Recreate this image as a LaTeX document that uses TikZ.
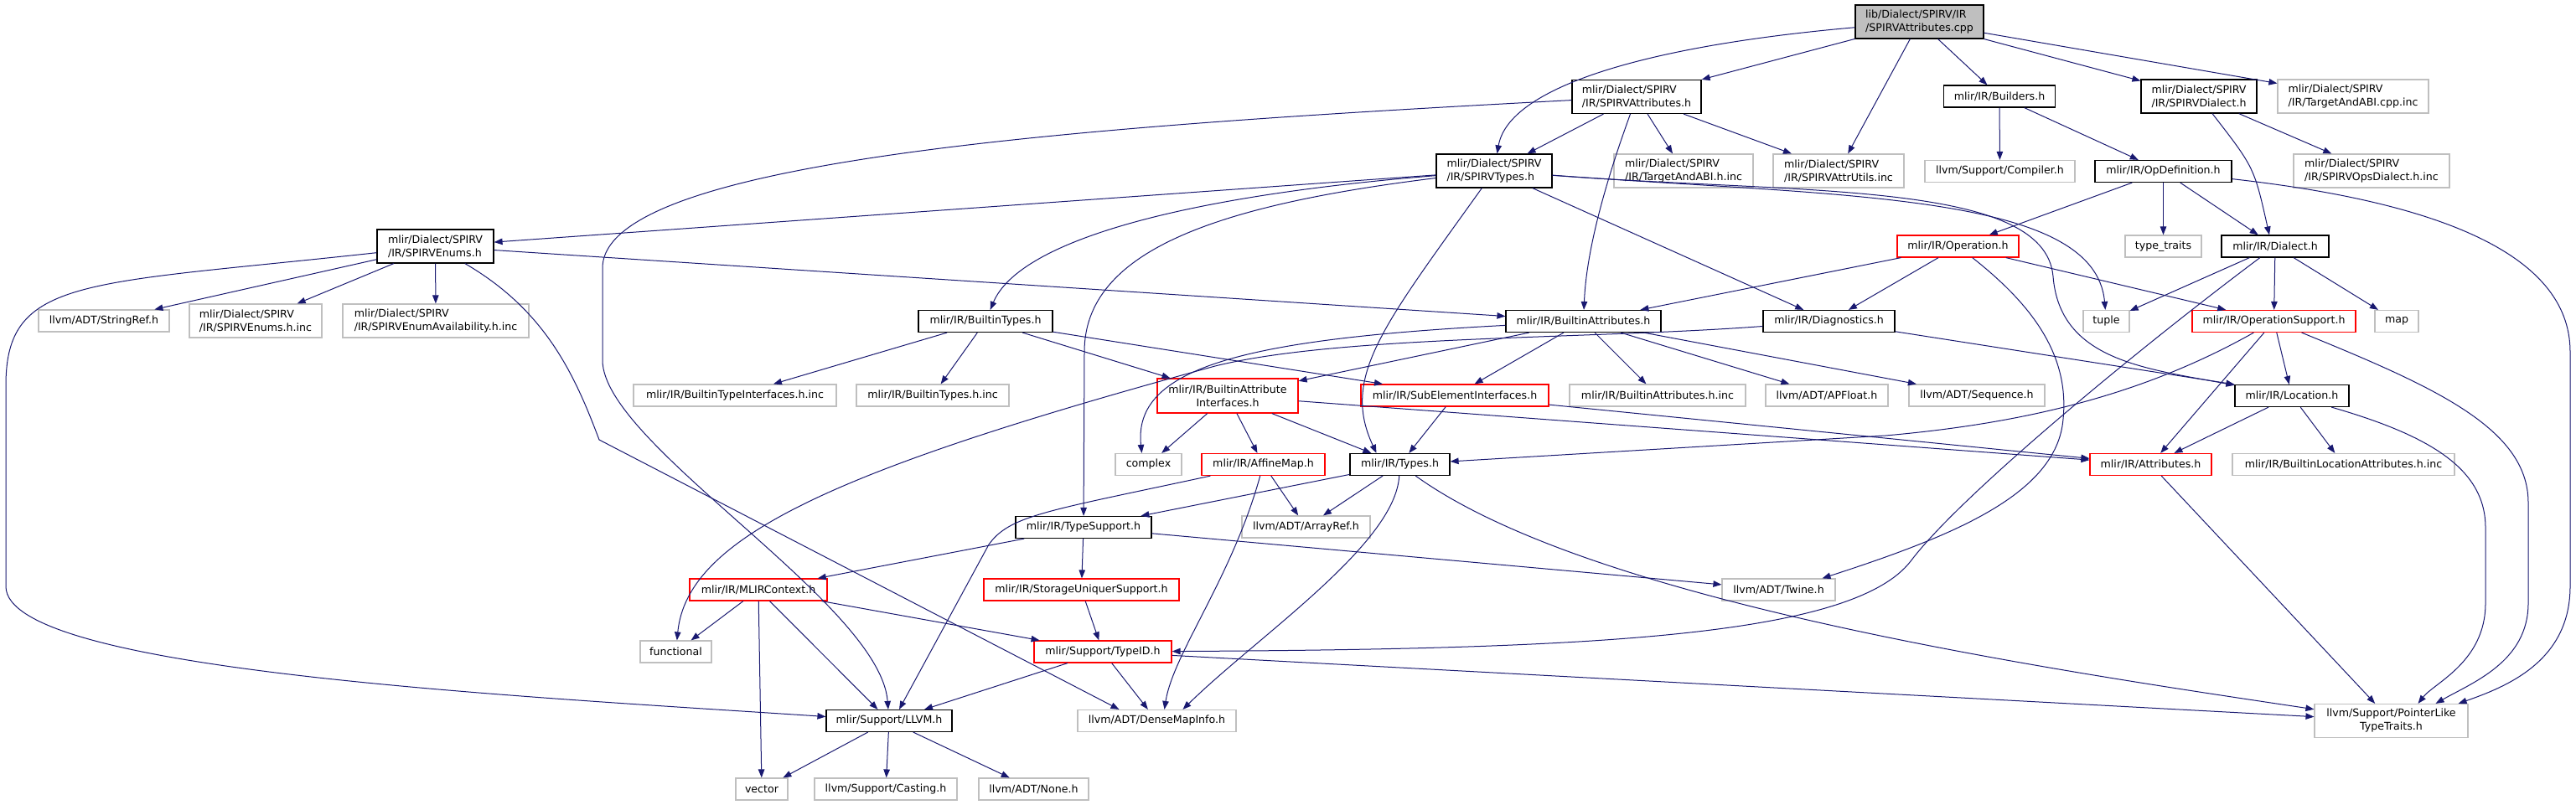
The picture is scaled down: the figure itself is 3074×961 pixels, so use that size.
\documentclass[tikz,border=0pt]{standalone}
\usepackage{fontspec}
\setmainfont{DejaVu Sans}
\usepackage{tikz}
\usetikzlibrary{arrows.meta,calc}
\definecolor{edge}{HTML}{191970}
\definecolor{rim}{HTML}{BFBFBF}

\tikzset{
  box/.style={rectangle,inner sep=0pt,minimum height=26pt,align=center,
    fill=white,line width=1.2pt,text=black},
  doc/.style={box,draw=black},
  part/.style={box,draw=red},
  ext/.style={box,draw=rim},
  tall/.style={minimum height=40pt},
  inc/.style={draw=edge,line width=1pt,-{Triangle[length=10pt,width=7.5pt]}}
}

\begin{document}
\begin{tikzpicture}[x=1pt,y=-1pt,font=\fontsize{12.6pt}{16pt}\selectfont]
  \useasboundingbox (0,0) rectangle (3074,961);

  % top rows
  \node[doc,tall,fill=rim,align=left,minimum width=153pt] (cpp) at (2290.5,26)
    {lib/Dialect/SPIRV/IR\\/SPIRVAttributes.cpp};
  \node[doc,tall,align=left,minimum width=154pt] (attrh) at (1953,115.5)
    {mlir/Dialect/SPIRV\\/IR/SPIRVAttributes.h};
  \node[doc,minimum width=133pt] (builders) at (2386,115) {mlir/IR/Builders.h};
  \node[doc,tall,align=left,minimum width=138pt] (dialectspirv) at (2624,115)
    {mlir/Dialect/SPIRV\\/IR/SPIRVDialect.h};
  \node[ext,tall,align=left,minimum width=180pt] (abicpp) at (2808,115)
    {mlir/Dialect/SPIRV\\/IR/TargetAndABI.cpp.inc};

  \node[doc,tall,align=left,minimum width=138pt] (types) at (1783,204)
    {mlir/Dialect/SPIRV\\/IR/SPIRVTypes.h};
  \node[ext,tall,align=left,minimum width=166pt] (abiinc) at (2009,204)
    {mlir/Dialect/SPIRV\\/IR/TargetAndABI.h.inc};
  \node[ext,tall,align=left,minimum width=156pt] (attrutils) at (2194,204)
    {mlir/Dialect/SPIRV\\/IR/SPIRVAttrUtils.inc};
  \node[ext,minimum width=179pt] (compiler) at (2386.5,204.5) {llvm/Support/Compiler.h};
  \node[doc,minimum width=163pt] (opdef) at (2581.5,204.5) {mlir/IR/OpDefinition.h};
  \node[ext,tall,align=left,minimum width=186pt] (opsdialect) at (2830,204)
    {mlir/Dialect/SPIRV\\/IR/SPIRVOpsDialect.h.inc};

  \node[doc,tall,align=left,minimum width=139pt] (enums) at (519.5,294)
    {mlir/Dialect/SPIRV\\/IR/SPIRVEnums.h};
  \node[part,minimum width=145pt] (operation) at (2336.5,294) {mlir/IR/Operation.h};
  \node[ext,minimum width=91pt] (typetraits) at (2581.5,294) {type\_traits};
  \node[doc,minimum width=128pt] (dialect) at (2715,294) {mlir/IR/Dialect.h};

  % middle rows
  \node[ext,minimum width=156pt] (stringref) at (124,383) {llvm/ADT/StringRef.h};
  \node[ext,tall,align=left,minimum width=158pt] (enumsinc) at (305,383)
    {mlir/Dialect/SPIRV\\/IR/SPIRVEnums.h.inc};
  \node[ext,tall,align=left,minimum width=222pt] (enumavail) at (520,383)
    {mlir/Dialect/SPIRV\\/IR/SPIRVEnumAvailability.h.inc};
  \node[doc,minimum width=160pt] (builtintypes) at (1176,383.5) {mlir/IR/BuiltinTypes.h};
  \node[doc,minimum width=185pt] (builtinattrs) at (1889.5,383.5) {mlir/IR/BuiltinAttributes.h};
  \node[doc,minimum width=157pt] (diagnostics) at (2182.5,383.5) {mlir/IR/Diagnostics.h};
  \node[ext,minimum width=55pt] (tuple) at (2513.5,383.5) {tuple};
  \node[part,minimum width=195pt] (opsupport) at (2713.5,383.5) {mlir/IR/OperationSupport.h};
  \node[ext,minimum width=52pt] (map) at (2860,383.5) {map};

  \node[ext,minimum width=242pt] (typeifinc) at (877,472) {mlir/IR/BuiltinTypeInterfaces.h.inc};
  \node[ext,minimum width=182pt] (typesinc) at (1113,472) {mlir/IR/BuiltinTypes.h.inc};
  \node[part,minimum height=41pt,minimum width=168pt] (attrif) at (1465,472.5)
    {mlir/IR/BuiltinAttribute\\Interfaces.h};
  \node[part,minimum width=224pt] (subelem) at (1736,472) {mlir/IR/SubElementInterfaces.h};
  \node[ext,minimum width=210pt] (attrsinc) at (1978,472) {mlir/IR/BuiltinAttributes.h.inc};
  \node[ext,minimum width=146pt] (apfloat) at (2180,472) {llvm/ADT/APFloat.h};
  \node[ext,minimum width=162pt] (sequence) at (2359,472) {llvm/ADT/Sequence.h};
  \node[doc,minimum width=136pt] (location) at (2735,472.5) {mlir/IR/Location.h};

  \node[ext,minimum width=79pt] (complex) at (1370.5,554.5) {complex};
  \node[part,minimum width=147pt] (affinemap) at (1507.5,554.5) {mlir/IR/AffineMap.h};
  \node[doc,minimum width=119pt] (typesh) at (1670.5,554.5) {mlir/IR/Types.h};
  \node[part,minimum width=145pt] (attributes) at (2566.5,554.5) {mlir/IR/Attributes.h};
  \node[ext,minimum width=265pt] (locattrinc) at (2796.5,554.5)
    {mlir/IR/BuiltinLocationAttributes.h.inc};

  % lower rows
  \node[doc,minimum width=162pt] (typesupport) at (1293,629.5) {mlir/IR/TypeSupport.h};
  \node[ext,minimum width=153pt] (arrayref) at (1558.5,629) {llvm/ADT/ArrayRef.h};
  \node[part,minimum width=164pt] (mlircontext) at (905,704) {mlir/IR/MLIRContext.h};
  \node[part,minimum width=233pt] (storageuniquer) at (1290.5,704)
    {mlir/IR/StorageUniquerSupport.h};
  \node[ext,minimum width=135pt] (twine) at (2122.5,704) {llvm/ADT/Twine.h};
  \node[ext,minimum width=85pt] (functional) at (806.5,778) {functional};
  \node[part,minimum width=164pt] (typeid) at (1316,778) {mlir/Support/TypeID.h};
  \node[doc,minimum width=150pt] (llvmh) at (1061,860.5) {mlir/Support/LLVM.h};
  \node[ext,minimum width=189pt] (densemap) at (1380.5,860.5) {llvm/ADT/DenseMapInfo.h};
  \node[ext,tall,minimum width=183pt] (pointerlike) at (2853.5,860.5)
    {llvm/Support/PointerLike\\TypeTraits.h};
  \node[ext,minimum width=62pt] (vector) at (909,942) {vector};
  \node[ext,minimum width=170pt] (casting) at (1057,942) {llvm/Support/Casting.h};
  \node[ext,minimum width=131pt] (none) at (1233.5,942) {llvm/ADT/None.h};

  % the .cpp file
  \draw[inc] (cpp) .. controls (1960,55) and (1800,105) .. (types);
  \draw[inc] (cpp) -- (attrh);
  \draw[inc] (cpp) -- (attrutils);
  \draw[inc] (cpp) -- (builders);
  \draw[inc] (cpp) -- (dialectspirv);
  \draw[inc] (cpp) -- (abicpp);

  % SPIRVAttributes.h
  \draw[inc] (attrh) -- (types);
  \draw[inc] (attrh) -- (abiinc);
  \draw[inc] (attrh) -- (attrutils);
  \draw[inc] (attrh) .. controls (1915,220) and (1893,300) .. (builtinattrs);
  \draw[inc] (attrh) .. controls (1300,150) and (719,190) .. (719,320) -- (719,430)
    .. controls (719,530) and (1050,720) .. (llvmh);

  % SPIRVTypes.h
  \draw[inc] (types) -- (enums);
  \draw[inc] (types) .. controls (1400,235) and (1215,290) .. (builtintypes);
  \draw[inc] (types) .. controls (1450,245) and (1294,300) .. (1294,420) -- (typesupport);
  \draw[inc] (types) .. controls (1650,390) and (1600,450) .. ($(typesh.north)+(-28,0)$);
  \draw[inc] (types) -- (diagnostics);
  \draw[inc] (types) .. controls (2200,235) and (2500,230) .. (tuple);
  \draw[inc] (types) .. controls (2150,232) and (2440,215) .. (2450,330)
    .. controls (2458,430) and (2560,440) .. (location);

  % SPIRVEnums.h
  \draw[inc] (enums) .. controls (100,340) and (7,330) .. (7,460) -- (7,700)
    .. controls (7,800) and (600,830) .. (llvmh);
  \draw[inc] (enums) -- (stringref);
  \draw[inc] (enums) -- (enumsinc);
  \draw[inc] (enums) -- (enumavail);
  \draw[inc] (enums) -- (builtinattrs);
  \draw[inc] (enums) .. controls (650,370) and (685,445) .. (715,525)
    -- ($(densemap.north)+(-45,0)$);

  % BuiltinTypes.h, BuiltinAttributes.h, Diagnostics.h
  \draw[inc] (builtintypes) -- (typeifinc);
  \draw[inc] (builtintypes) -- (typesinc);
  \draw[inc] (builtintypes) -- (attrif);
  \draw[inc] (builtintypes) -- (subelem);
  \draw[inc] (builtinattrs) -- (attrif);
  \draw[inc] (builtinattrs) -- (subelem);
  \draw[inc] (builtinattrs) -- (attrsinc);
  \draw[inc] (builtinattrs) -- (apfloat);
  \draw[inc] (builtinattrs) -- (sequence);
  \draw[inc] (builtinattrs) .. controls (1480,405) and (1352,440) .. ($(complex.north)+(-8,0)$);
  \draw[inc] (diagnostics) .. controls (1900,405) and (1600,400) .. (1450,437)
    .. controls (1000,560) and (820,640) .. (functional);
  \draw[inc] (diagnostics) -- (location.north west);

  % Operation.h, OpDefinition.h, dialects
  \draw[inc] (operation) -- (builtinattrs);
  \draw[inc] (operation) -- (diagnostics);
  \draw[inc] (operation) -- (opsupport);
  \draw[inc] (operation) .. controls (2420,360) and (2470,420) .. (2462,500)
    .. controls (2455,590) and (2330,640) .. ($(twine.north)+(52,0)$);
  \draw[inc] (opdef) -- (operation);
  \draw[inc] (opdef) -- (typetraits);
  \draw[inc] (opdef) -- (dialect);
  \draw[inc] (opdef) .. controls (2900,240) and (3067,300) .. (3067,420) -- (3067,700)
    .. controls (3067,790) and (2990,820) .. ($(pointerlike.north east)+(-12,0)$);
  \draw[inc] (dialectspirv) .. controls (2690,200) .. ($(dialect.north)+(-7,0)$);
  \draw[inc] (dialectspirv) -- (opsdialect);
  \draw[inc] (builders) -- (compiler);
  \draw[inc] (builders) -- (opdef);
  \draw[inc] (dialect) -- (tuple);
  \draw[inc] (dialect) -- (opsupport);
  \draw[inc] (dialect) -- (map);
  \draw[inc] (dialect) .. controls (2560,410) and (2340,590) .. (2280,670)
    .. controls (2210,760) and (1900,775) .. (typeid);

  % OperationSupport.h, Location.h, Attributes.h
  \draw[inc] (opsupport) .. controls (2560,470) and (2420,505) .. (2250,520) -- (typesh);
  \draw[inc] (opsupport) -- (attributes);
  \draw[inc] (opsupport) -- (location);
  \draw[inc] (opsupport) .. controls (2900,460) and (3017,510) .. (3017,600) -- (3017,720)
    .. controls (3017,790) and (2950,815) .. ($(pointerlike.north)+(53,0)$);
  \draw[inc] (location) -- (attributes);
  \draw[inc] (location) -- (locattrinc);
  \draw[inc] (location) .. controls (2900,520) and (2966,560) .. (2966,630) -- (2966,720)
    .. controls (2966,790) and (2905,815) .. ($(pointerlike.north)+(32,0)$);
  \draw[inc] (attributes) -- (pointerlike);

  % interfaces and types
  \draw[inc] (attrif) -- (complex);
  \draw[inc] (attrif) -- (affinemap);
  \draw[inc] (attrif) -- (typesh);
  \draw[inc] (attrif) -- (attributes);
  \draw[inc] (subelem) -- (typesh);
  \draw[inc] (subelem) -- (attributes);
  \draw[inc] (affinemap) -- (arrayref);
  \draw[inc] (affinemap) .. controls (1250,610) and (1205,615) .. (1180,650)
    -- ($(llvmh.north)+(12,0)$);
  \draw[inc] (affinemap) .. controls (1470,690) and (1400,780) .. ($(densemap.north)+(9,0)$);
  \draw[inc] (typesh) -- (typesupport);
  \draw[inc] (typesh) -- (arrayref);
  \draw[inc] (typesh) .. controls (1665,650) and (1500,760) .. ($(densemap.north)+(31,0)$);
  \draw[inc] (typesh) .. controls (1900,720) and (2450,800) .. (pointerlike);

  % support headers
  \draw[inc] (typesupport) -- (mlircontext);
  \draw[inc] (typesupport) -- (storageuniquer);
  \draw[inc] (typesupport) -- (twine);
  \draw[inc] (storageuniquer) -- (typeid);
  \draw[inc] (mlircontext) -- (functional);
  \draw[inc] (mlircontext) -- (vector);
  \draw[inc] (mlircontext) -- (llvmh);
  \draw[inc] (mlircontext) -- (typeid);
  \draw[inc] (typeid) -- (llvmh);
  \draw[inc] (typeid) -- (densemap);
  \draw[inc] (typeid) -- (pointerlike);
  \draw[inc] (llvmh) -- (vector);
  \draw[inc] (llvmh) -- (casting);
  \draw[inc] (llvmh) -- (none);
\end{tikzpicture}
\end{document}
